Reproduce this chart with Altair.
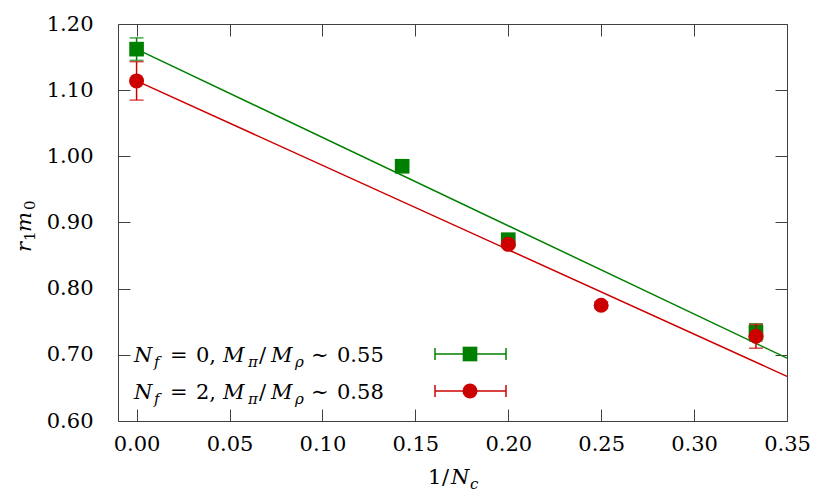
import altair as alt
import pandas as pd

# ---- data ----
green_x = [0.0, 0.1429, 0.2, 0.3333]
green_y = [1.162, 0.985, 0.874, 0.734]
green_err = [0.017, 0.005, 0.004, 0.013]

red_x = [0.0, 0.2, 0.25, 0.3333]
red_y = [1.114, 0.867, 0.775, 0.728]
red_err = [0.029, 0.005, 0.005, 0.018]

fit_x = [0.0, 0.35]
green_fit = [1.162, 0.695]
red_fit = [1.114, 0.6675]

x_ticks = [0.0, 0.05, 0.10, 0.15, 0.20, 0.25, 0.30, 0.35]
y_ticks = [0.60, 0.70, 0.80, 0.90, 1.00, 1.10, 1.20]

legend_nf = ["0", "2"]
legend_ratio = ["0.55", "0.58"]

# ---- style ----
GREEN = "#008000"
RED = "#cc0000"
BORDER = "#404040"
FONT = "DejaVu Serif"
FS = 21
SFS = 15
W, H = 669, 397

XS = alt.Scale(domain=[-0.01, 0.35], nice=False, zero=False)
YS = alt.Scale(domain=[0.6, 1.2], nice=False, zero=False)


def lab_axis(orient, values, pad):
    return alt.Axis(orient=orient, values=values, format=".2f", ticks=False, tickSize=0,
                    domain=False, grid=False, labelPadding=pad, labelFont=FONT,
                    labelFontSize=FS, labelColor="black", title=None,
                    labelFlush=False, labelOverlap=False)


def tick_axis(orient, values):
    return alt.Axis(orient=orient, values=values, labels=False, domain=False, grid=False,
                    ticks=True, tickSize=12, offset=-12, tickColor=BORDER, tickWidth=1,
                    title=None)


def X(field, axis=None):
    return alt.X(field, type="quantitative", scale=XS, axis=axis)


def Y(field, axis=None):
    return alt.Y(field, type="quantitative", scale=YS, axis=axis)


gdf = pd.DataFrame({"x": green_x, "y": green_y, "e": green_err})
gdf["lo"] = gdf["y"] - gdf["e"]
gdf["hi"] = gdf["y"] + gdf["e"]
rdf = pd.DataFrame({"x": red_x, "y": red_y, "e": red_err})
rdf["lo"] = rdf["y"] - rdf["e"]
rdf["hi"] = rdf["y"] + rdf["e"]
gcap = pd.DataFrame({"x": green_x * 2, "cy": list(gdf["lo"]) + list(gdf["hi"])})
rcap = pd.DataFrame({"x": red_x * 2, "cy": list(rdf["lo"]) + list(rdf["hi"])})
fit = pd.DataFrame({"x": fit_x, "g": green_fit, "r": red_fit})

layers = []
layers.append(alt.Chart(fit).mark_line(color=GREEN, strokeWidth=1.5).encode(
    x=X("x", lab_axis("bottom", x_ticks, 12)), y=Y("g", lab_axis("left", y_ticks, 25))))
layers.append(alt.Chart(fit).mark_line(color=RED, strokeWidth=1.5).encode(
    x=X("x", tick_axis("bottom", x_ticks)), y=Y("r", tick_axis("left", y_ticks))))

layers.append(alt.Chart(gdf).mark_rule(color=GREEN, strokeWidth=1.5).encode(
    x=X("x", tick_axis("top", x_ticks)), y=Y("lo", tick_axis("right", y_ticks)), y2="hi"))
layers.append(alt.Chart(gcap).mark_tick(color=GREEN, orient="horizontal", size=14, thickness=1.5).encode(
    x=X("x"), y=Y("cy")))
layers.append(alt.Chart(gdf).mark_point(shape="square", filled=True, size=215, opacity=1, color=GREEN).encode(
    x=X("x"), y=Y("y")))
layers.append(alt.Chart(rdf).mark_rule(color=RED, strokeWidth=1.5).encode(
    x=X("x"), y=Y("lo"), y2="hi"))
layers.append(alt.Chart(rcap).mark_tick(color=RED, orient="horizontal", size=14, thickness=1.5).encode(
    x=X("x"), y=Y("cy")))
layers.append(alt.Chart(rdf).mark_point(shape="circle", filled=True, size=225, opacity=1, color=RED).encode(
    x=X("x"), y=Y("y")))

one = pd.DataFrame({"t": ["a"]})


def piece(txt, x, y, size=FS, italic=False, angle=0, dx=0, dy=0):
    return alt.Chart(pd.DataFrame({"t": [txt]})).mark_text(
        align="left", baseline="alphabetic", font=FONT, fontSize=size,
        fontStyle="italic" if italic else "normal", angle=angle, dx=dx, dy=dy,
        color="black").encode(text="t:N", x=alt.value(x), y=alt.value(y))


rows_y = [330, 367]
colors = [GREEN, RED]
shapes = ["square", "circle"]
bx0, bx1, bxm = 317, 388, 352
for i in range(2):
    cy = rows_y[i]
    c = colors[i]
    layers.append(alt.Chart(one).mark_rule(color=c, strokeWidth=1.5).encode(
        x=alt.value(bx0), x2=alt.value(bx1), y=alt.value(cy)))
    layers.append(alt.Chart(one).mark_rule(color=c, strokeWidth=1.5).encode(
        x=alt.value(bx0), y=alt.value(cy - 6), y2=alt.value(cy + 6)))
    layers.append(alt.Chart(one).mark_rule(color=c, strokeWidth=1.5).encode(
        x=alt.value(bx1), y=alt.value(cy - 6), y2=alt.value(cy + 6)))
    layers.append(alt.Chart(one).mark_point(shape=shapes[i], filled=True, opacity=1, color=c,
                                            size=215 if i == 0 else 225).encode(
        x=alt.value(bxm), y=alt.value(cy)))
    bl = cy + 8
    x0 = 16
    layers += [
        piece("N", x0, bl, italic=True),
        piece("f", x0 + 20, bl, size=SFS, italic=True, dy=5),
        piece("=", x0 + 36, bl),
        piece(legend_nf[i] + ",", x0 + 62, bl),
        piece("M", x0 + 89, bl, italic=True),
        piece("π", x0 + 114, bl, size=SFS, italic=True, dy=5),
        piece("/", x0 + 125, bl),
        piece("M", x0 + 137, bl, italic=True),
        piece("ρ", x0 + 161, bl, size=SFS, italic=True, dy=5),
        piece("∼", x0 + 177, bl),
        piece(legend_ratio[i], x0 + 203, bl),
    ]

tx, ty = 310, 460
layers += [
    piece("1", tx, ty),
    piece("/", tx + 14, ty),
    piece("N", tx + 23, ty, italic=True),
    piece("c", tx + 42, ty, size=SFS, italic=True, dy=5),
]
ax, ay = -87, 228
layers += [
    piece("r", ax, ay, italic=True, angle=270),
    piece("1", ax, ay, size=SFS, angle=270, dx=11, dy=4),
    piece("m", ax, ay, italic=True, angle=270, dx=20),
    piece("0", ax, ay, size=SFS, angle=270, dx=42, dy=4),
]

chart = alt.layer(*layers).resolve_axis(x="independent", y="independent").properties(
    width=W, height=H,
    autosize=alt.AutoSizeParams(type="none"),
    padding={"left": 110, "top": 16, "right": 35, "bottom": 75},
).configure_view(stroke=BORDER, strokeWidth=1)

chart.save("out.html", embed_options={"renderer": "svg", "actions": False})
